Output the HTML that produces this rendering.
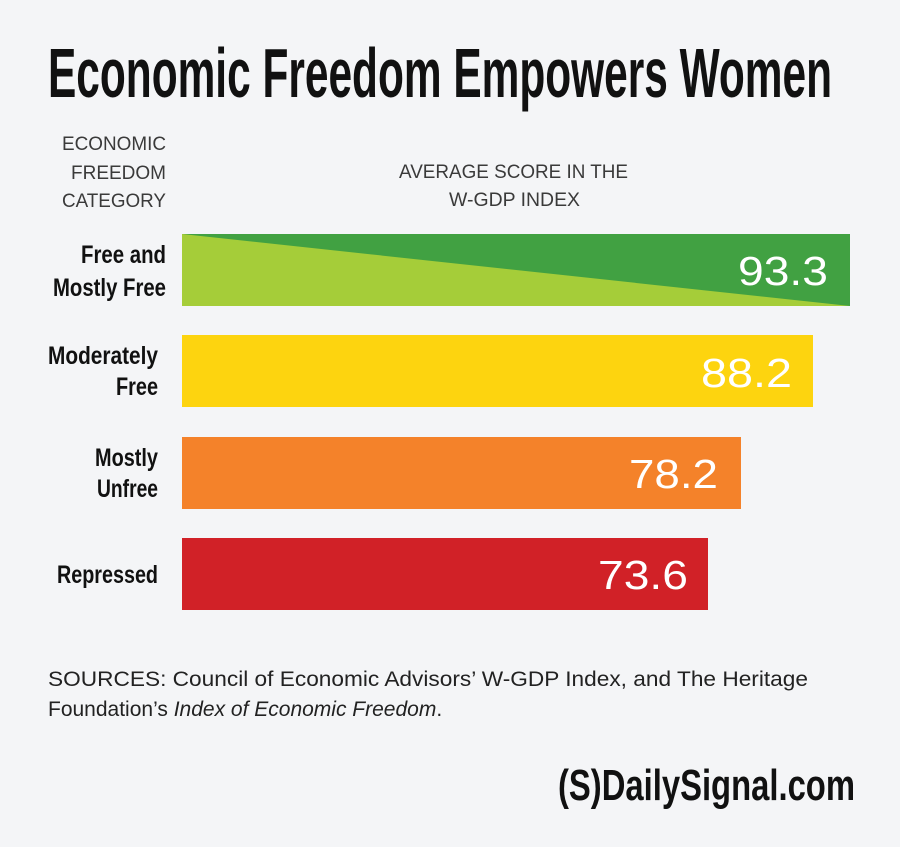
<!DOCTYPE html>
<html><head><meta charset="utf-8"><style>
html,body{margin:0;padding:0;background:#f4f5f7;}
svg{display:block}
text{font-family:"Liberation Sans",sans-serif;}
</style></head><body>
<svg width="900" height="847" viewBox="0 0 900 847" xmlns="http://www.w3.org/2000/svg">
<rect width="900" height="847" fill="#f4f5f7"/>
<text x="48" y="97" font-size="70" font-weight="bold" fill="#111" textLength="784" lengthAdjust="spacingAndGlyphs">Economic Freedom Empowers Women</text>
<g font-size="19" fill="#3a3a3a" text-anchor="end">
<text x="166" y="150" textLength="104" lengthAdjust="spacingAndGlyphs">ECONOMIC</text>
<text x="166" y="179" textLength="95" lengthAdjust="spacingAndGlyphs">FREEDOM</text>
<text x="166" y="207" textLength="104" lengthAdjust="spacingAndGlyphs">CATEGORY</text>
</g>
<g font-size="19" fill="#3a3a3a">
<text x="399" y="178" textLength="229" lengthAdjust="spacingAndGlyphs">AVERAGE SCORE IN THE</text>
<text x="449" y="206" textLength="131" lengthAdjust="spacingAndGlyphs">W-GDP INDEX</text>
</g>
<g font-size="25" font-weight="bold" fill="#111" text-anchor="end">
<text x="166" y="263" textLength="85" lengthAdjust="spacingAndGlyphs">Free and</text>
<text x="166" y="296" textLength="113" lengthAdjust="spacingAndGlyphs">Mostly Free</text>
<text x="158" y="364" textLength="110" lengthAdjust="spacingAndGlyphs">Moderately</text>
<text x="158" y="395" textLength="42" lengthAdjust="spacingAndGlyphs">Free</text>
<text x="158" y="466" textLength="63" lengthAdjust="spacingAndGlyphs">Mostly</text>
<text x="158" y="497" textLength="61" lengthAdjust="spacingAndGlyphs">Unfree</text>
<text x="158" y="583" textLength="101" lengthAdjust="spacingAndGlyphs">Repressed</text>
</g>
<rect x="182" y="234" width="668" height="72" fill="#41a142"/>
<polygon points="182,234 850,306 182,306" fill="#a5cd39"/>
<rect x="182" y="335" width="631" height="72" fill="#fdd40f"/>
<rect x="182" y="437" width="559" height="72" fill="#f4822a"/>
<rect x="182" y="538" width="526" height="72" fill="#d12127"/>
<g font-size="41" fill="#fff">
<text x="738" y="285" textLength="90" lengthAdjust="spacingAndGlyphs">93.3</text>
<text x="701" y="387" textLength="91" lengthAdjust="spacingAndGlyphs">88.2</text>
<text x="629" y="488" textLength="89" lengthAdjust="spacingAndGlyphs">78.2</text>
<text x="598" y="589" textLength="90" lengthAdjust="spacingAndGlyphs">73.6</text>
</g>
<g font-size="21" fill="#222">
<text x="48" y="686" textLength="760" lengthAdjust="spacingAndGlyphs">SOURCES: Council of Economic Advisors’ W-GDP Index, and The Heritage</text>
<text x="48" y="716">Foundation’s <tspan font-style="italic">Index of Economic Freedom</tspan>.</text>
</g>
<text x="558" y="800" font-size="44" font-weight="bold" fill="#111" textLength="297" lengthAdjust="spacingAndGlyphs">(S)DailySignal.com</text>
</svg>
</body></html>
